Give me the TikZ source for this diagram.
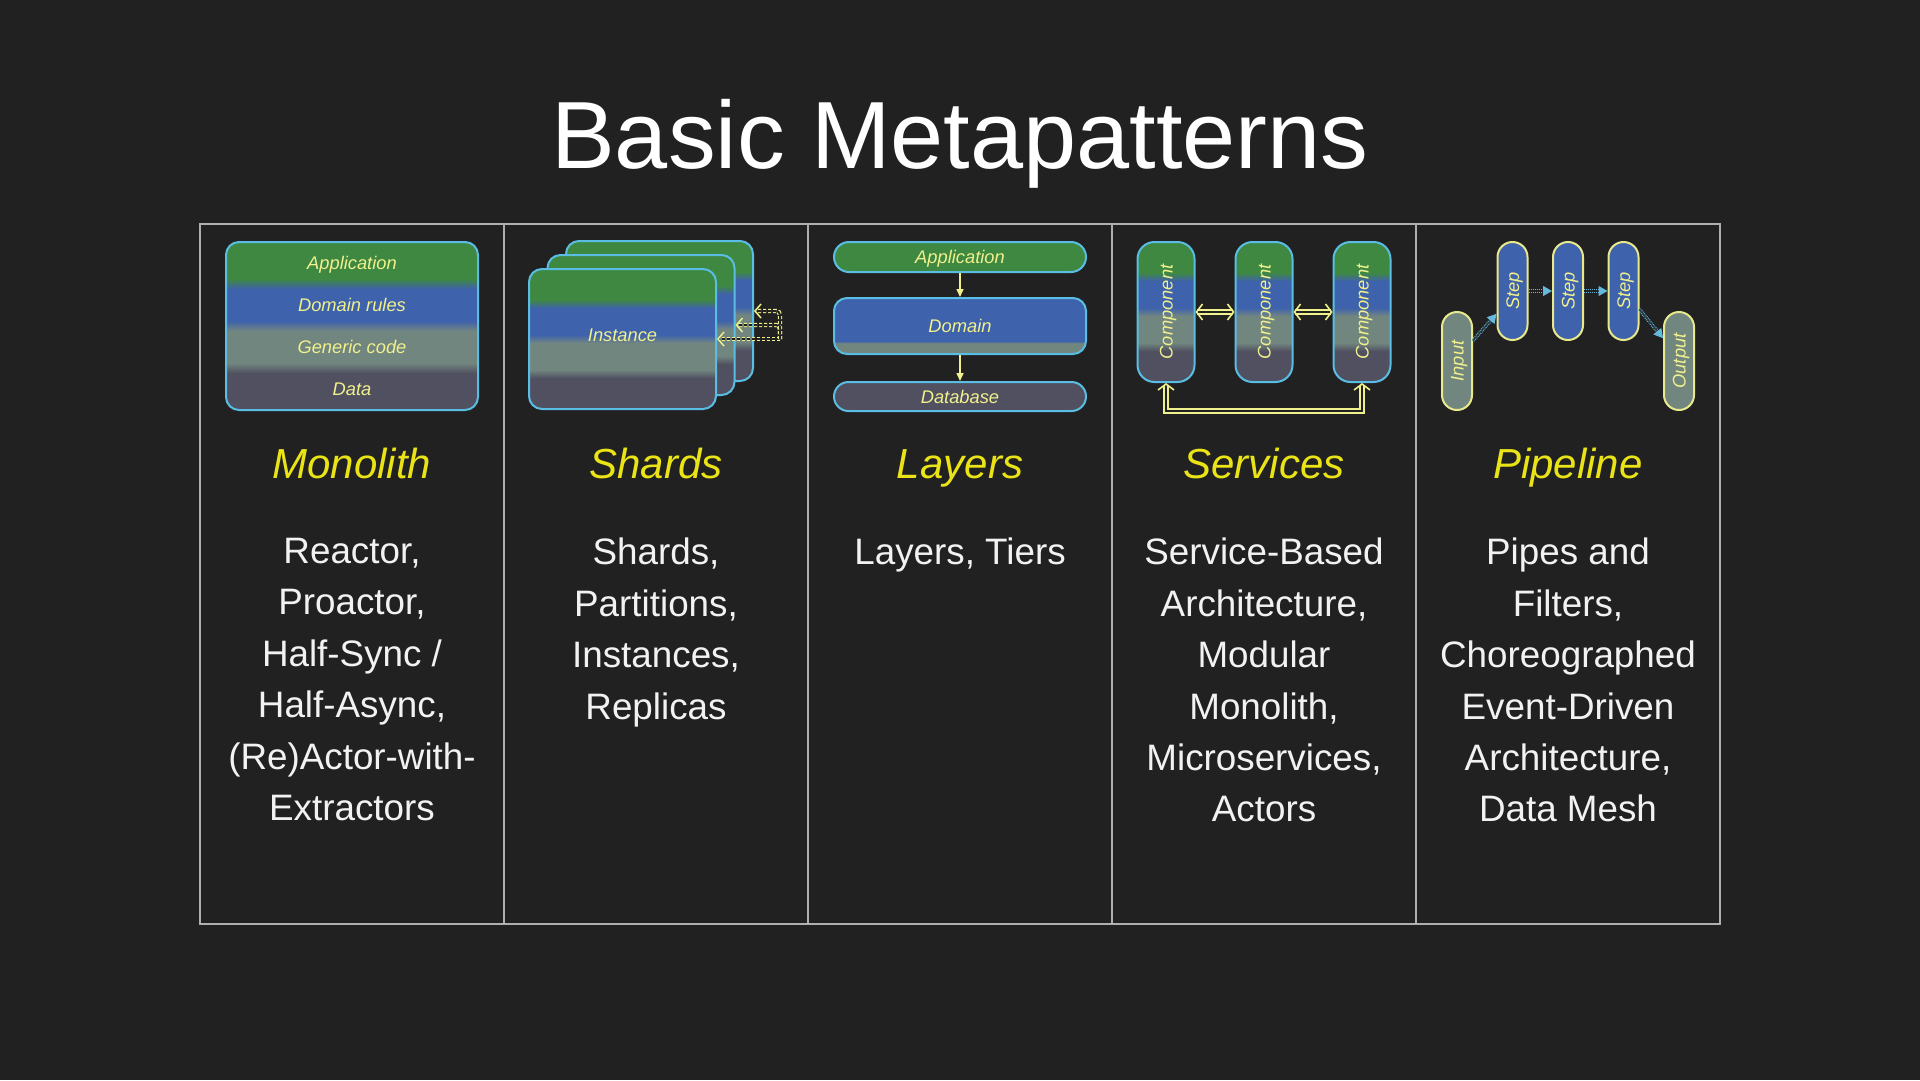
\documentclass[tikz,border=0pt]{standalone}
\usepackage{fontspec}
\setmainfont{Liberation Sans}
\usepackage{xcolor}
\usepackage{tikz}
\usetikzlibrary{arrows.meta,positioning}

\definecolor{slidebg}{RGB}{33,33,33}
\definecolor{framegray}{RGB}{175,175,175}
\definecolor{bodywhite}{RGB}{242,242,242}
\definecolor{headyellow}{RGB}{234,228,22}
\definecolor{labelyellow}{RGB}{240,240,140}
\definecolor{edgeblue}{RGB}{90,190,228}
\definecolor{pipeedge}{RGB}{232,232,140}
\definecolor{flowblue}{RGB}{100,185,220}
\definecolor{tierapp}{RGB}{62,136,66}
\definecolor{tierdomain}{RGB}{63,98,172}
\definecolor{tiergeneric}{RGB}{114,134,128}
\definecolor{tierdata}{RGB}{80,80,96}

% four stacked bands, bottom to top
\pgfdeclareverticalshading{tiers}{100bp}{color(0bp)=(tierdata); color(36bp)=(tierdata);
  color(39bp)=(tiergeneric); color(48.5bp)=(tiergeneric); color(51.5bp)=(tierdomain);
  color(61bp)=(tierdomain); color(64bp)=(tierapp); color(100bp)=(tierapp)}
\pgfdeclareverticalshading{domaintier}{100bp}{color(0bp)=(tiergeneric); color(34.5bp)=(tiergeneric);
  color(36.5bp)=(tierdomain); color(100bp)=(tierdomain)}

\begin{document}
\begin{tikzpicture}[x=1pt, y=-1pt,
  frame/.style={draw=framegray, line width=2pt},
  heading/.style={font=\fontsize{42}{50}\selectfont\itshape, text=headyellow, anchor=base},
  bodytext/.style={font=\fontsize{36.8}{51.4}\selectfont, text=bodywhite, align=center, anchor=north, inner sep=0pt},
  tierlabel/.style={font=\fontsize{18.3}{22}\selectfont\itshape, text=labelyellow, text height=13pt, text depth=0pt, inner sep=0pt},
  tierbox/.style={draw=edgeblue, line width=2pt, shade, shading=tiers, rounded corners=13pt, inner sep=0pt},
  layerbox/.style={tierlabel, draw=edgeblue, line width=2pt, minimum width=252pt},
  pipebox/.style={draw=pipeedge, line width=2pt, minimum width=30pt, minimum height=98pt, rounded corners=15pt, inner sep=0pt},
  layerflow/.style={draw=labelyellow, line width=1.5pt, -{Triangle[length=8pt, width=7pt]}},
  svcflow/.style={draw=labelyellow, double=slidebg, double distance=2.5pt, line width=1.4pt,
    {Straight Barb[length=6pt, width=16pt, line width=1.6pt]}-{Straight Barb[length=6pt, width=16pt, line width=1.6pt]}},
  shardflow/.style={draw=labelyellow, double=slidebg, double distance=2pt, line width=1.2pt,
    dash pattern=on 3pt off 2pt, rounded corners=4pt, -{Straight Barb[length=6pt, width=14pt, line width=1.5pt]}},
  pipeflow/.style={draw=flowblue, double=slidebg, double distance=1.5pt, line width=1pt, densely dotted, -{Triangle[length=9pt, width=10pt]}}
]
% Slide
\fill[slidebg] (0,0) rectangle (1920,1080);
\node[font=\fontsize{95.5}{114}\selectfont, text=white, anchor=base] (title) at (960,168) {Basic Metapatterns};

% Table
\draw[frame] (200,224) rectangle (1720,924);
\foreach \x in {504,808,1112,1416}
  \draw[frame] (\x,224) -- (\x,924);

% Monolith
\node[tierbox, minimum width=252pt, minimum height=168pt] (mono) at (352,326) {};
\foreach \lbl/\y [count=\i] in {Application/263, Domain rules/305, Generic code/347, Data/389}
  \node[tierlabel] (mono-l\i) at (352,\y) {\lbl};

% Shards
\node[tierbox, minimum width=187pt, minimum height=140pt] (shard3) at (659.5,311) {};
\node[tierbox, minimum width=187pt, minimum height=140pt] (shard2) at (641,325) {};
\node[tierbox, minimum width=187pt, minimum height=140pt] (shard1) at (622.5,339) {};
\node[tierlabel] (shard-lbl) at (622.5,335) {Instance};
\coordinate (shard-hub) at (780,339);
\draw[shardflow] (shard-hub) -- (shard1.east);
\draw[shardflow] (shard-hub) |- (shard2.east);
\draw[shardflow] (shard-hub) |- (shard3.east);

% Layers
\node[layerbox, fill=tierapp, minimum height=30pt, rounded corners=15pt] (lay-app) at (960,257) {Application};
\node[layerbox, shade, shading=domaintier, minimum height=56pt, rounded corners=13pt] (lay-dom) at (960,326) {Domain};
\node[layerbox, fill=tierdata, minimum height=29pt, rounded corners=14.5pt] (lay-db) at (960,396.5) {Database};
\draw[layerflow] (lay-app) -- (lay-dom);
\draw[layerflow] (lay-dom) -- (lay-db);

% Services
\foreach \x [count=\i] in {1166,1264,1362} {
  \node[tierbox, minimum width=57pt, minimum height=140pt, rounded corners=17pt] (svc\i) at (\x,312) {};
  \node[tierlabel, rotate=90] (svc\i-lbl) at (svc\i) {Component};
}
\draw[svcflow] (svc1) -- (svc2);
\draw[svcflow] (svc2) -- (svc3);
\draw[svcflow] (svc1.south) -- ++(0,28) -| (svc3.south);

% Pipeline
\node[pipebox, fill=tiergeneric] (pipe-in) at (1457,361) {};
\node[pipebox, fill=tierdomain] (pipe-s1) at (1512.5,291) {};
\node[pipebox, fill=tierdomain] (pipe-s2) at (1568,291) {};
\node[pipebox, fill=tierdomain] (pipe-s3) at (1623.5,291) {};
\node[pipebox, fill=tiergeneric] (pipe-out) at (1679,361) {};
\node[tierlabel, rotate=90] (pipe-in-lbl) at (pipe-in) {Input};
\node[tierlabel, rotate=90] (pipe-s1-lbl) at (pipe-s1) {Step};
\node[tierlabel, rotate=90] (pipe-s2-lbl) at (pipe-s2) {Step};
\node[tierlabel, rotate=90] (pipe-s3-lbl) at (pipe-s3) {Step};
\node[tierlabel, rotate=90] (pipe-out-lbl) at (pipe-out) {Output};
\draw[pipeflow] (pipe-in.52) -- (pipe-s1.235);
\draw[pipeflow] (pipe-s1) -- (pipe-s2);
\draw[pipeflow] (pipe-s2) -- (pipe-s3);
\draw[pipeflow] (pipe-s3.-49) -- (pipe-out.125);

% Headings
\node[heading] (h-mono) at (352,478) {Monolith};
\node[heading] (h-shard) at (656,478) {Shards};
\node[heading] (h-layer) at (960,478) {Layers};
\node[heading] (h-svc) at (1264,478) {Services};
\node[heading] (h-pipe) at (1568,478) {Pipeline};

% Examples
\node[bodytext] (t-mono) at (352,538) {Reactor,\\Proactor,\\Half-Sync /\\Half-Async,\\(Re)Actor-with-\\Extractors};
\node[bodytext] (t-shard) at (656,538) {Shards,\\Partitions,\\Instances,\\Replicas};
\node[bodytext] (t-layer) at (960,538) {Layers, Tiers};
\node[bodytext] (t-svc) at (1264,538) {Service-Based\\Architecture,\\Modular\\Monolith,\\Microservices,\\Actors};
\node[bodytext] (t-pipe) at (1568,538) {Pipes and\\Filters,\\Choreographed\\Event-Driven\\Architecture,\\Data Mesh};
\end{tikzpicture}
\end{document}
